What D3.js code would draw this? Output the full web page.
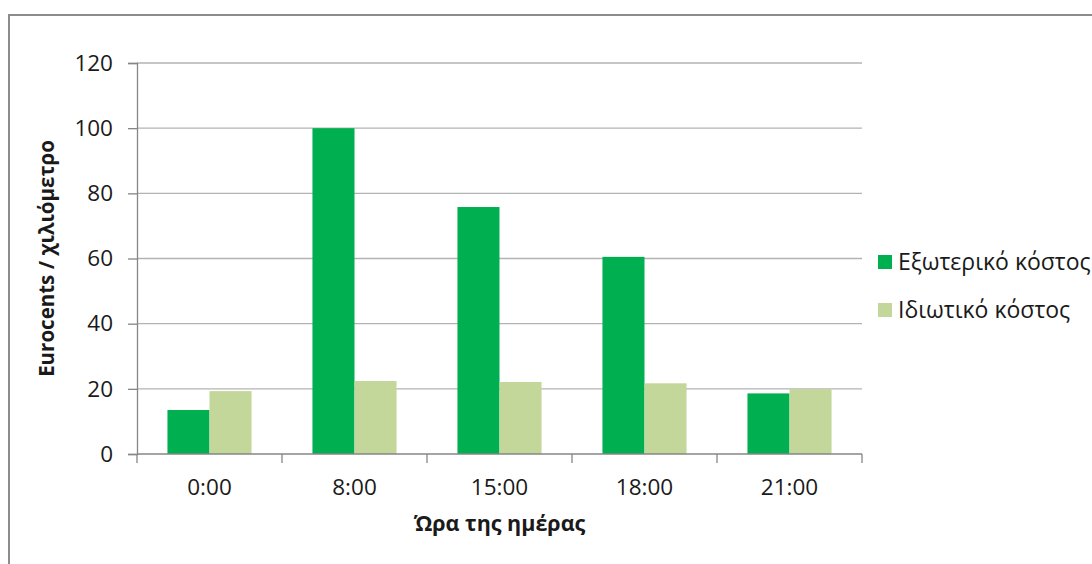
<!DOCTYPE html>
<html>
<head>
<meta charset="utf-8">
<script src="https://cdn.jsdelivr.net/npm/d3@7"></script>
<style>
  html, body { margin: 0; padding: 0; background: #fff; }
  #chart { width: 1092px; height: 564px; }
  text { font-family: "Open Sans", "Liberation Sans", sans-serif; fill: #1a1a1a; }
</style>
</head>
<body>
<div id="chart"></div>
<script>
const categories = ["0:00", "8:00", "15:00", "18:00", "21:00"];
const seriesNames = ["Εξωτερικό κόστος", "Ιδιωτικό κόστος"];
const externalCost = [13.5, 100, 75.8, 60.5, 18.6];
const privateCost = [19.3, 22.4, 22.1, 21.7, 19.9];
const yTicks = [0, 20, 40, 60, 80, 100, 120];
const colours = ["#00B050", "#C4D79B"];

const width = 1092;
const height = 564;
const margin = { top: 63, right: 230, bottom: 110, left: 137 };
const innerWidth = width - margin.left - margin.right;
const innerHeight = height - margin.top - margin.bottom;

const svg = d3
  .select("#chart")
  .append("svg")
  .attr("width", width)
  .attr("height", height);

// outer frame (runs off the right and bottom edge)
svg
  .append("rect")
  .attr("x", 9)
  .attr("y", 15)
  .attr("width", 1200)
  .attr("height", 700)
  .attr("fill", "none")
  .attr("stroke", "#8c8c8c")
  .attr("stroke-width", 2);

const g = svg
  .append("g")
  .attr("transform", `translate(${margin.left},${margin.top})`);

const x0 = d3.scaleBand().domain(categories).range([0, innerWidth]);
const groupW = x0.bandwidth() * 0.58;
const x1 = d3
  .scaleBand()
  .domain([0, 1])
  .range([(x0.bandwidth() - groupW) / 2, (x0.bandwidth() + groupW) / 2]);

const y = d3.scaleLinear().domain([0, 120]).range([innerHeight, 0]);

// gridlines
g.append("g")
  .selectAll("line")
  .data(yTicks.filter((d) => d > 0))
  .join("line")
  .attr("x1", 0)
  .attr("x2", innerWidth)
  .attr("y1", (d) => y(d))
  .attr("y2", (d) => y(d))
  .attr("stroke", "#b3b3b3")
  .attr("stroke-width", 1.3);

// bars
const rows = categories.map((c, i) => ({
  cat: c,
  values: [externalCost[i], privateCost[i]],
}));

g.append("g")
  .selectAll("g")
  .data(rows)
  .join("g")
  .attr("transform", (d) => `translate(${x0(d.cat)},0)`)
  .selectAll("rect")
  .data((d) => d.values.map((v, k) => ({ v, k })))
  .join("rect")
  .attr("x", (d) => x1(d.k))
  .attr("width", x1.bandwidth())
  .attr("y", (d) => y(d.v))
  .attr("height", (d) => y(0) - y(d.v))
  .attr("fill", (d) => colours[d.k]);

// y axis
const yAxis = g
  .append("g")
  .call(d3.axisLeft(y).tickValues(yTicks).tickSize(9).tickPadding(15));
yAxis.select(".domain").attr("stroke", "#868686").attr("stroke-width", 1.3);
yAxis.selectAll(".tick line").attr("stroke", "#868686").attr("stroke-width", 1.3);
yAxis
  .selectAll(".tick text")
  .style("font-size", "22.5px")
  .style("font-family", "'Open Sans', sans-serif")
  .attr("fill", "#1a1a1a");

// x axis with ticks on category boundaries
const xAxisG = g.append("g").attr("transform", `translate(0,${innerHeight})`);
xAxisG
  .append("line")
  .attr("x1", 0)
  .attr("x2", innerWidth)
  .attr("stroke", "#868686")
  .attr("stroke-width", 1.3);
const bounds = categories.map((c) => x0(c)).concat([innerWidth]);
xAxisG
  .selectAll(".bound")
  .data(bounds)
  .join("line")
  .attr("class", "bound")
  .attr("x1", (d) => d)
  .attr("x2", (d) => d)
  .attr("y1", 0)
  .attr("y2", 9)
  .attr("stroke", "#868686")
  .attr("stroke-width", 1.3);
xAxisG
  .selectAll(".lbl")
  .data(categories)
  .join("text")
  .attr("class", "lbl")
  .attr("x", (d) => x0(d) + x0.bandwidth() / 2)
  .attr("y", 41)
  .attr("text-anchor", "middle")
  .style("font-size", "22.5px")
  .text((d) => d);

// axis titles
svg
  .append("text")
  .attr("transform", `translate(54,${margin.top + innerHeight / 2}) rotate(-90)`)
  .attr("text-anchor", "middle")
  .style("font-size", "20.5px")
  .style("font-weight", "bold")
  .text("Eurocents / χιλιόμετρο");

svg
  .append("text")
  .attr("x", margin.left + innerWidth / 2)
  .attr("y", 531)
  .attr("text-anchor", "middle")
  .style("font-size", "21.5px")
  .style("font-weight", "bold")
  .text("Ώρα της ημέρας");

// legend
const legend = svg
  .append("g")
  .attr("transform", "translate(878,255)")
  .selectAll("g")
  .data(seriesNames)
  .join("g")
  .attr("transform", (d, i) => `translate(0,${i * 48})`);
legend
  .append("rect")
  .attr("width", 14)
  .attr("height", 14)
  .attr("fill", (d, i) => colours[i]);
legend
  .append("text")
  .attr("x", 20)
  .attr("y", 7)
  .attr("dy", "0.35em")
  .style("font-size", "23px")
  .text((d) => d);
</script>
</body>
</html>
